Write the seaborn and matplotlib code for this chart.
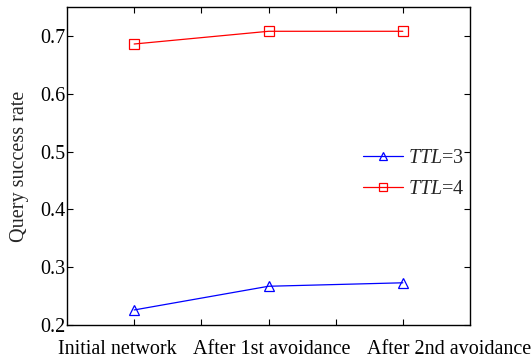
import matplotlib
matplotlib.use("Agg")
import matplotlib.pyplot as plt
import matplotlib.transforms as mtransforms
import seaborn as sns
import pandas as pd

stages = ["Initial network", "After 1st avoidance", "After 2nd avoidance"]
stage_pos = [1, 2, 3]
ttl3 = [0.226, 0.267, 0.273]
ttl4 = [0.686, 0.708, 0.708]
series_names = ["$TTL$=3", "$TTL$=4"]
y_ticks = [0.2, 0.3, 0.4, 0.5, 0.6, 0.7]
colors = ["#0000ff", "#ff0000"]

sns.set_theme(style="ticks")
plt.rcParams["font.family"] = ["Liberation Serif", "DejaVu Serif"]
plt.rcParams["mathtext.fontset"] = "custom"
plt.rcParams["mathtext.it"] = "Liberation Serif:italic"
plt.rcParams["mathtext.rm"] = "Liberation Serif"

df = pd.DataFrame({
    "x": stage_pos * 2,
    "y": ttl3 + ttl4,
    "series": [series_names[0]] * 3 + [series_names[1]] * 3,
})

fig = plt.figure(figsize=(5.31, 3.58), dpi=100)
ax = fig.add_axes([67 / 531, 1 - 325 / 358, (470 - 67) / 531, (325 - 7) / 358])

sns.lineplot(data=df, x="x", y="y", hue="series", style="series",
             palette={series_names[0]: colors[0], series_names[1]: colors[1]},
             markers={series_names[0]: "^", series_names[1]: "s"},
             dashes=False, markersize=7, linewidth=0.9, ax=ax, legend=False)
for ln, c in zip(ax.lines, colors):
    ln.set_markerfacecolor("none")
    ln.set_markeredgecolor(c)
    ln.set_markeredgewidth(0.9)

ax.set_xlim(0.5, 3.5)
ax.set_ylim(0.2, 0.75)
ax.set_xticks([1, 1.5, 2, 2.5, 3])
ax.set_xticklabels([stages[0], "", stages[1], "", stages[2]])
ax.set_yticks(y_ticks)
ax.set_yticklabels([f"{v:.1f}" for v in y_ticks])
ax.tick_params(direction="in", top=True, right=True, length=4, width=0.8,
               labelsize=14.5, colors="black")
ax.tick_params(axis="x", pad=11)
ax.tick_params(axis="y", pad=1)
for s in ax.spines.values():
    s.set_linewidth(1.0)
    s.set_color("black")

offsets = [-17, 0, 3, 0, 46]
for lab, dx in zip(ax.get_xticklabels(), offsets):
    lab.set_transform(lab.get_transform() + mtransforms.ScaledTranslation(dx / 100, 0, fig.dpi_scale_trans))

ax.set_xlabel("")
ax.set_ylabel("Query success rate", fontsize=14.5, labelpad=8)

handles = ax.lines[:2]
leg = ax.legend(handles, series_names, loc="upper right", bbox_to_anchor=(1.008, 0.58),
                frameon=False, fontsize=14.5, handlelength=2.0, handletextpad=0.25,
                labelspacing=0.6, borderaxespad=0, markerscale=0.85)

fig.savefig("out.png", dpi=100, facecolor="white")
